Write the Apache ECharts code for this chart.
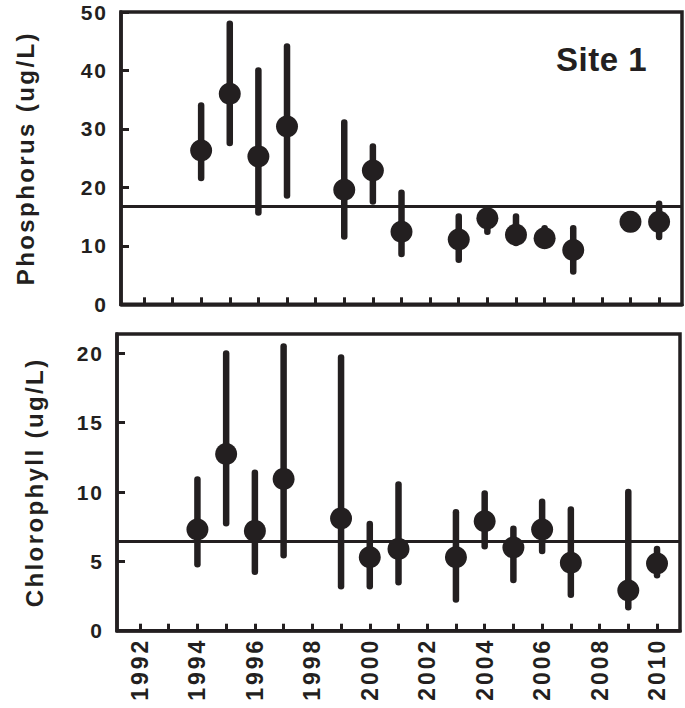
<!DOCTYPE html>
<html>
<head>
<meta charset="utf-8">
<script src="https://cdn.jsdelivr.net/npm/echarts@6/dist/echarts.min.js"></script>
<style>
  html, body { margin: 0; padding: 0; background: #fff; }
  #chart { width: 685px; height: 708px; }
</style>
</head>
<body>
<div id="chart"></div>
<script>
// Sampling years (same for both panels)
const years = [1994, 1995, 1996, 1997, 1999, 2000, 2001, 2003, 2004, 2005, 2006, 2007, 2009, 2010];

// Total phosphorus (ug/L): mean with low/high range
const phosMean = [26.3, 36.0, 25.3, 30.4, 19.6, 22.9, 12.4, 11.1, 14.7, 11.9, 11.3, 9.3, 14.1, 14.1];
const phosLow  = [21.6, 27.6, 15.7, 18.6, 11.6, 17.6, 8.6, 7.6, 12.4, 10.5, 10.0, 5.6, 13.5, 11.5];
const phosHigh = [34.0, 48.0, 40.0, 44.1, 31.1, 27.0, 19.1, 15.0, 15.5, 15.0, 13.0, 13.0, 14.8, 17.2];

// Chlorophyll a (ug/L): mean with low/high range
const chlMean = [7.3, 12.75, 7.2, 10.95, 8.1, 5.3, 5.9, 5.3, 7.9, 6.0, 7.3, 4.9, 2.9, 4.85];
const chlLow  = [4.8, 7.75, 4.25, 5.45, 3.2, 3.2, 3.5, 2.25, 6.1, 3.65, 5.75, 2.6, 1.7, 4.0];
const chlHigh = [10.9, 20.0, 11.4, 20.5, 19.7, 7.7, 10.55, 8.55, 9.9, 7.35, 9.3, 8.75, 10.0, 5.9];

// Long-term reference levels
const phosTarget = 16.7;
const chlTarget = 6.42;

// Axis ticks and labels
const yearTicks = [1992, 1993, 1994, 1995, 1996, 1997, 1998, 1999, 2000, 2001, 2002,
                   2003, 2004, 2005, 2006, 2007, 2008, 2009, 2010];
const yearLabels = [1992, 1994, 1996, 1998, 2000, 2002, 2004, 2006, 2008, 2010];
const phosTicks = [0, 10, 20, 30, 40, 50];
const chlTicks = [0, 5, 10, 15, 20];

const INK = '#231f20';
const FONT = 'Liberation Sans, Arial, Helvetica, sans-serif';

function xAxisFor(gridIndex, withLabels) {
  return {
    type: 'value', gridIndex, min: 1991.2, max: 2010.8,
    axisLine: { show: true, lineStyle: { color: INK, width: 3.5 } },
    axisTick: { show: true, inside: true, length: 7, customValues: yearTicks,
                lineStyle: { color: INK, width: 3 } },
    axisLabel: withLabels ? {
      show: true, rotate: 90, margin: 7, customValues: yearLabels,
      formatter: v => String(v),
      color: INK, fontFamily: FONT, fontWeight: 'bold', fontSize: 23
    } : { show: false },
    splitLine: { show: false }
  };
}

function yAxisFor(gridIndex, name, max, ticks, gap) {
  return {
    type: 'value', gridIndex, min: 0, max,
    name, nameLocation: 'middle', nameGap: gap,
    nameTextStyle: { color: INK, fontFamily: FONT, fontWeight: 'bold', fontSize: 24 },
    axisLine: { show: true, lineStyle: { color: INK, width: 3.5 } },
    axisTick: { show: true, inside: true, length: 8, customValues: ticks,
                lineStyle: { color: INK, width: 3 } },
    axisLabel: { show: true, margin: 13, customValues: ticks,
                 formatter: v => String(v),
                 color: INK, fontFamily: FONT, fontWeight: 'bold', fontSize: 21 },
    splitLine: { show: false }
  };
}

function rangeSeries(idx, low, high) {
  return {
    type: 'custom', xAxisIndex: idx, yAxisIndex: idx, silent: true,
    data: years.map((y, i) => [y, low[i], high[i]]),
    renderItem(params, api) {
      const a = api.coord([api.value(0), api.value(1)]);
      const b = api.coord([api.value(0), api.value(2)]);
      return {
        type: 'line',
        shape: { x1: a[0], y1: a[1], x2: b[0], y2: b[1] },
        style: { stroke: INK, lineWidth: 6.5, lineCap: 'round' }
      };
    }
  };
}

function meanSeries(idx, mean, target) {
  return {
    type: 'scatter', xAxisIndex: idx, yAxisIndex: idx, silent: true,
    symbol: 'circle', symbolSize: 22,
    itemStyle: { color: INK, opacity: 1 },
    data: years.map((y, i) => [y, mean[i]]),
    markLine: {
      silent: true, symbol: ['none', 'none'], label: { show: false },
      lineStyle: { color: INK, width: 2.8, type: 'solid' },
      data: [{ yAxis: target }]
    }
  };
}

const option = {
  animation: false,
  backgroundColor: '#fff',
  grid: [
    { left: 121, right: 3, top: 12, height: 292.3, show: true, borderColor: INK, borderWidth: 3.5 },
    { left: 117, right: 5, top: 334, height: 296.7, show: true, borderColor: INK, borderWidth: 3.5 }
  ],
  xAxis: [xAxisFor(0, false), xAxisFor(1, true)],
  yAxis: [
    yAxisFor(0, 'Phosphorus (ug/L)', 50, phosTicks, 84),
    yAxisFor(1, 'Chlorophyll (ug/L)', 21.4, chlTicks, 71)
  ],
  graphic: [{
    type: 'text', left: 556, top: 43, silent: true,
    style: { text: 'Site 1', fill: INK, font: 'bold 33px ' + FONT }
  }],
  series: [
    rangeSeries(0, phosLow, phosHigh),
    meanSeries(0, phosMean, phosTarget),
    rangeSeries(1, chlLow, chlHigh),
    meanSeries(1, chlMean, chlTarget)
  ]
};

const dom = document.getElementById('chart');
const chart = echarts.init(dom, null, { renderer: 'svg' });
chart.setOption(option);

// Widen the tracking of the axis typography
function trackText() {
  dom.querySelectorAll('text').forEach(t => {
    const s = t.textContent.trim();
    let spacing = 2;
    if (s === 'Site 1') spacing = 0.5;
    else if (/^\d{4}$/.test(s)) spacing = 3.0;
    else if (/ug\/L/.test(s)) spacing = 2.4;
    t.setAttribute('letter-spacing', String(spacing));
  });
}
chart.on('finished', trackText);
trackText();
</script>
</body>
</html>
